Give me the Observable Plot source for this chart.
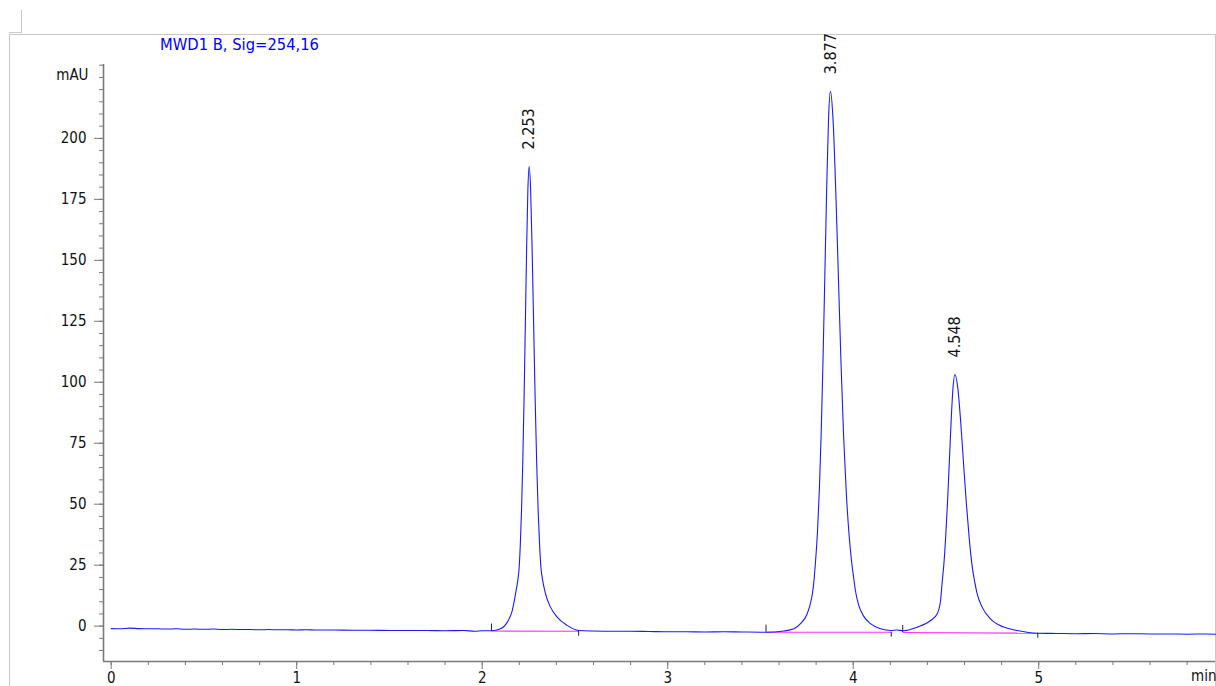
<!DOCTYPE html>
<html>
<head>
<meta charset="utf-8">
<script src="https://cdn.jsdelivr.net/npm/d3@7"></script>
<script src="https://cdn.jsdelivr.net/npm/@observablehq/plot@0.6"></script>
<style>
html, body { margin: 0; padding: 0; background: #fff; }
#wrap { position: relative; width: 1216px; height: 686px; overflow: hidden;
  font-family: "DejaVu Sans Condensed", "DejaVu Sans", sans-serif; font-stretch: condensed; }
#frame { position: absolute; left: 9px; top: 34px; width: 1205px; height: 720px;
  border-left: 1px solid #c8c8c8; border-top: 1px solid #c8c8c8; border-right: 1px solid #c8c8c8; }
#corner { position: absolute; left: 9px; top: 10px; width: 12px; height: 22px;
  border-right: 1px solid #c8c8c8; border-bottom: 1px solid #c8c8c8; }
#title { position: absolute; left: 160px; top: 36px; color: #0000ff; font-size: 16.4px; line-height: 18px; white-space: nowrap; }
#chart { position: absolute; left: 0; top: 0; }
</style>
</head>
<body>
<div id="wrap">
  <div id="corner"></div>
  <div id="frame"></div>
  <div id="title">MWD1 B, Sig=254,16</div>
  <div id="chart"></div>
</div>
<script>
// ---- data ----
const signalTime = [
  0.00, 0.05, 0.10, 0.15, 0.20, 0.25, 0.30, 0.35, 0.40, 0.45, 0.50, 0.55, 0.60, 0.65, 0.70, 0.75,
  0.80, 0.85, 0.90, 0.95, 1.00, 1.05, 1.10, 1.20, 1.30, 1.40, 1.50, 1.60, 1.70, 1.80, 1.90, 1.96,
  2.00, 2.05,
  2.099, 2.135, 2.162, 2.180, 2.193, 2.1982, 2.2051, 2.2119, 2.2188, 2.2256, 2.2325, 2.2393, 2.2462,
  2.253,
  2.2611, 2.2692, 2.2773, 2.2854, 2.2935, 2.3016, 2.3097, 2.3178, 2.323, 2.341, 2.368, 2.404, 2.458, 2.52,
  2.60, 2.70, 2.80, 2.90, 3.00, 3.10, 3.20, 3.30, 3.40, 3.53,
  3.626, 3.68, 3.716, 3.752, 3.77, 3.784, 3.79, 3.797, 3.807, 3.817, 3.827, 3.837, 3.847, 3.857, 3.867,
  3.877,
  3.891, 3.9055, 3.920, 3.934, 3.948, 3.9625, 3.977, 3.991, 4.003, 4.012, 4.03, 4.057, 4.093, 4.147, 4.205,
  4.235,
  4.267, 4.345, 4.417, 4.453, 4.471, 4.478, 4.488, 4.498, 4.508, 4.518, 4.528, 4.538,
  4.548,
  4.5635, 4.579, 4.5945, 4.610, 4.6255, 4.641, 4.6565, 4.668, 4.695, 4.74, 4.812, 4.884, 4.995,
  5.10, 5.20, 5.30, 5.40, 5.50, 5.60, 5.70, 5.80, 5.90, 5.953
];
const signalMAU = [
  -1.0, -1.1, -0.8, -1.0, -1.1, -1.1, -1.2, -1.1, -1.3, -1.2, -1.3, -1.2, -1.4, -1.3, -1.4, -1.4,
  -1.5, -1.4, -1.5, -1.5, -1.6, -1.5, -1.6, -1.6, -1.7, -1.7, -1.8, -1.8, -1.8, -1.9, -1.8, -2.1,
  -1.9, -1.9,
  -1.1, 1.6, 6.4, 13.3, 19.5, 23.0, 32.8, 47.3, 67.4, 93.3, 123.5, 154.3, 178.9,
  188.5,
  178.9, 154.3, 123.5, 93.3, 67.4, 47.3, 32.8, 23.0, 20.1, 13.3, 7.8, 3.7, 0.3, -1.8,
  -2.0, -2.1, -2.1, -2.2, -2.3, -2.3, -2.4, -2.3, -2.4, -2.5,
  -2.0, -1.1, 1.0, 5.1, 9.5, 15.5, 20.0, 26.6, 38.1, 54.9, 78.3, 108.4, 143.6, 179.5, 208.1,
  219.3,
  208.1, 179.5, 143.6, 108.4, 78.3, 54.9, 38.1, 26.6, 19.5, 14.5, 8.5, 4.0, 1.0, -1.1, -1.8,
  -1.6,
  -1.9, -0.4, 2.3, 5.1, 10.5, 16.7, 24.7, 35.9, 50.3, 67.0, 84.2, 97.8,
  103.2,
  97.8, 84.2, 67.0, 50.3, 35.9, 24.7, 17.5, 13.3, 7.8, 3.0, -0.4, -1.8, -2.9,
  -3.0, -3.1, -3.0, -3.2, -3.1, -3.2, -3.2, -3.3, -3.2, -3.3
];
const peakTimes = [2.253, 3.877, 4.548];
const peakHeights = [188.5, 219.3, 103.2];
const peakLabels = ["2.253", "3.877", "4.548"];
const integStartTime = [2.05, 3.53, 4.267];
const integStartMAU = [-2.0, -2.5, -2.6];
const integEndTime = [2.52, 4.205, 4.995];
const integEndMAU = [-2.1, -2.5, -2.9];
const xTicks = [0, 1, 2, 3, 4, 5];
const yTicks = [0, 25, 50, 75, 100, 125, 150, 175, 200];
const xDomain = [-0.0415, 5.953];
const yDomain = [-14.5, 230.3];
const yUnit = "mAU";
const xUnit = "min";

// ---- build tables ----
const signal = signalTime.map((t, i) => ({t, v: signalMAU[i]}));
const peaks = peakTimes.map((t, i) => ({t, v: peakHeights[i], label: peakLabels[i]}));
const integ = integStartTime.map((t, i) => ({x1: t, y1: integStartMAU[i], x2: integEndTime[i], y2: integEndMAU[i]}));
const xMinor = d3.range(0, 30).map(i => i / 5);
const yMinor = d3.range(-2, 47).map(i => i * 5);

const axisGray = "#7a7a7a";
const font = "'DejaVu Sans Condensed', 'DejaVu Sans', sans-serif";

const chart = Plot.plot({
  width: 1216,
  height: 686,
  marginLeft: 103,
  marginRight: 1,
  marginTop: 64,
  marginBottom: 25,
  x: {domain: xDomain},
  y: {domain: yDomain},
  style: {fontFamily: font, fontSize: "15px", background: "transparent", color: "#111", overflow: "visible", fontStretch: "condensed"},
  marks: [
    Plot.axisY(yMinor, {tickSize: 4, stroke: axisGray, fill: "none", label: null}),
    Plot.axisY(yTicks, {tickSize: 9, tickPadding: 8, stroke: axisGray, fill: "#111", label: null, tickFormat: "d"}),
    Plot.axisX(xMinor, {tickSize: 4, stroke: axisGray, fill: "none", label: null}),
    Plot.axisX(xTicks, {tickSize: 8, tickPadding: 3, stroke: axisGray, fill: "#111", label: null, tickFormat: "d"}),
    Plot.ruleX([xDomain[0]], {stroke: axisGray, strokeWidth: 1.6}),
    Plot.ruleY([yDomain[0]], {stroke: axisGray, strokeWidth: 1.6}),
    Plot.link(integ, {x1: "x1", y1: "y1", x2: "x2", y2: "y2", stroke: "#ff33ff", strokeWidth: 1.2}),
    Plot.line(signal, {x: "t", y: "v", stroke: "#1a1aff", strokeWidth: 1.1, curve: "monotone-x"}),
    Plot.ruleX(integ, {x: "x1", y1: "y1", y2: "y1", insetBottom: 7, stroke: "#222"}),
    Plot.ruleX(integ, {x: "x2", y1: "y2", y2: "y2", insetTop: 5, stroke: "#222"}),
    Plot.text(peaks, {x: "t", y: "v", text: "label", rotate: -90, textAnchor: "start", dy: -17, fontSize: 16, fill: "#111"}),
    Plot.text([yUnit], {frameAnchor: "top-left", textAnchor: "end", dx: -15, dy: 5, fill: "#111"}),
    Plot.text([xUnit], {frameAnchor: "bottom-right", textAnchor: "end", dx: 1, dy: 19, fill: "#111"})
  ]
});
document.getElementById("chart").appendChild(chart);
</script>
</body>
</html>
